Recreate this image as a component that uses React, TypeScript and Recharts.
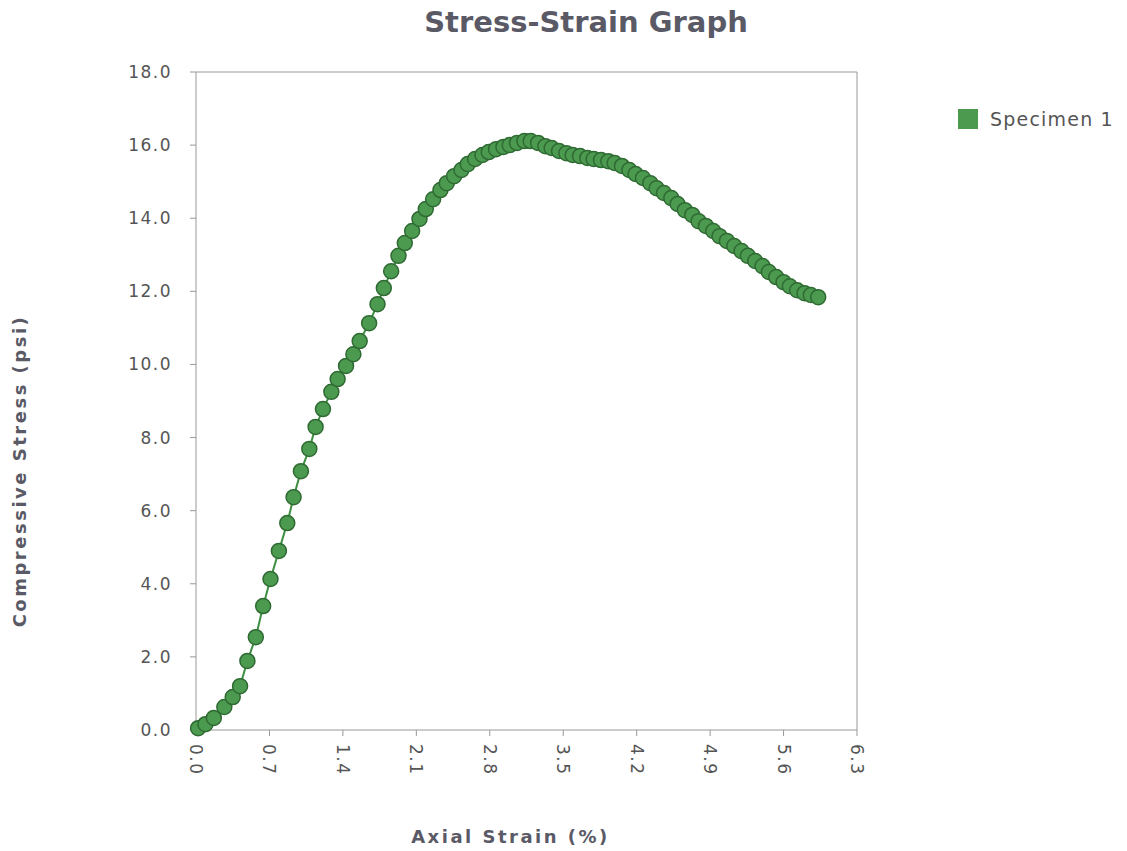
import { LineChart, Line, XAxis, YAxis, Legend, ReferenceLine } from 'recharts';

const strain = [
  0.02, 0.09, 0.17, 0.27, 0.35, 0.42, 0.49, 0.57, 0.64, 0.71, 0.79, 0.87, 0.93, 1.0, 1.08, 1.14,
  1.21, 1.29, 1.35, 1.43, 1.5, 1.56, 1.65, 1.73, 1.79, 1.86, 1.93, 1.99, 2.06, 2.13, 2.19, 2.26,
  2.33, 2.39, 2.46, 2.53, 2.59, 2.66, 2.73, 2.79, 2.86, 2.93, 2.99, 3.06, 3.13, 3.19, 3.26, 3.33,
  3.39, 3.46, 3.53, 3.59, 3.66, 3.73, 3.79, 3.86, 3.93, 3.99, 4.06, 4.13, 4.19, 4.26, 4.33, 4.39,
  4.46, 4.53, 4.59, 4.66, 4.73, 4.79, 4.86, 4.93, 4.99, 5.06, 5.13, 5.2, 5.26, 5.33, 5.4, 5.46,
  5.53, 5.6, 5.66, 5.73, 5.8, 5.86, 5.93,
];

const stress = [
  0.05, 0.16, 0.33, 0.63, 0.9, 1.2, 1.89, 2.54, 3.39, 4.13, 4.9, 5.66, 6.37, 7.08, 7.69, 8.29,
  8.78, 9.25, 9.6, 9.96, 10.28, 10.64, 11.13, 11.65, 12.09, 12.55, 12.97, 13.32, 13.65, 13.98,
  14.25, 14.52, 14.77, 14.96, 15.15, 15.32, 15.48, 15.62, 15.73, 15.81, 15.89, 15.95, 16.0,
  16.06, 16.11, 16.11, 16.06, 15.97, 15.92, 15.84, 15.78, 15.73, 15.7, 15.65, 15.62, 15.59,
  15.56, 15.51, 15.43, 15.32, 15.21, 15.1, 14.96, 14.82, 14.69, 14.55, 14.39, 14.22, 14.09,
  13.92, 13.79, 13.65, 13.51, 13.38, 13.24, 13.1, 12.97, 12.83, 12.69, 12.53, 12.39, 12.25,
  12.14, 12.03, 11.95, 11.9, 11.84,
];

const xTicks = [0, 0.7, 1.4, 2.1, 2.8, 3.5, 4.2, 4.9, 5.6, 6.3];
const yTicks = [0, 2, 4, 6, 8, 10, 12, 14, 16, 18];

const seriesName = 'Specimen 1';

const data = strain.map((s, i) => ({ strain: s, stress: stress[i] }));

const font = '"DejaVu Sans", Verdana, sans-serif';
const textGray = '#555';
const labelGray = '#5a5a66';

function XTick(props: any) {
  const { x, y, payload } = props;
  return (
    <text
      x={0}
      y={0}
      transform={`translate(${x - 6},${y + 6}) rotate(90)`}
      textAnchor="start"
      fill={textGray}
      fontSize={17}
      letterSpacing={1.5}
      fontFamily={font}
    >
      {payload.value.toFixed(1)}
    </text>
  );
}

function YTick(props: any) {
  const { x, y, payload } = props;
  return (
    <text
      x={x - 16}
      y={y}
      dy={6}
      textAnchor="end"
      fill={textGray}
      fontSize={17}
      letterSpacing={1.5}
      fontFamily={font}
    >
      {payload.value.toFixed(1)}
    </text>
  );
}

function LegendBox() {
  return (
    <div
      style={{
        display: 'flex',
        alignItems: 'center',
        fontFamily: font,
        fontSize: 19,
        letterSpacing: 1.2,
        color: textGray,
        whiteSpace: 'nowrap',
      }}
    >
      <span style={{ width: 20, height: 20, background: '#4c9a50', display: 'inline-block', marginRight: 12 }} />
      {seriesName}
    </div>
  );
}

export default function App() {
  return (
    <div style={{ position: 'absolute', left: 0, top: 0, width: 1127, height: 851, background: '#fff' }}>
      <div
        style={{
          position: 'absolute',
          left: 0,
          top: 5,
          width: 1172,
          textAlign: 'center',
          fontFamily: font,
          fontWeight: 'bold',
          fontSize: 29,
          color: labelGray,
        }}
      >
        Stress-Strain Graph
      </div>
      <LineChart
        width={1127}
        height={851}
        data={data}
        margin={{ top: 72, right: 270, bottom: 0, left: 0 }}
      >
        <XAxis
          type="number"
          dataKey="strain"
          domain={[0, 6.3]}
          ticks={xTicks}
          interval={0}
          height={121}
          stroke="#999"
          tickSize={6}
          tick={<XTick />}
          label={{
            value: 'Axial Strain (%)',
            position: 'insideBottom',
            offset: 8,
            dx: -16,
            fill: labelGray,
            fontSize: 18,
            fontWeight: 'bold',
            fontFamily: font,
            letterSpacing: 2.5,
          }}
        />
        <YAxis
          type="number"
          domain={[0, 18]}
          ticks={yTicks}
          interval={0}
          width={196}
          stroke="#999"
          tickSize={6}
          tick={<YTick />}
          label={{
            value: 'Compressive Stress (psi)',
            angle: -90,
            position: 'insideLeft',
            offset: 20,
            dy: 70,
            fill: labelGray,
            fontSize: 18,
            fontWeight: 'bold',
            fontFamily: font,
            letterSpacing: 2.5,
            style: { textAnchor: 'middle' },
          }}
        />
        <ReferenceLine y={18} stroke="#999" />
        <ReferenceLine x={6.3} stroke="#999" />
        <Legend
          layout="horizontal"
          verticalAlign="middle"
          align="center"
          wrapperStyle={{ position: 'absolute', left: 958, top: 108, width: 170 }}
          content={<LegendBox />}
        />
        <Line
          type="linear"
          dataKey="stress"
          name={seriesName}
          stroke="#3f8f42"
          strokeWidth={2}
          dot={{ r: 7.5, fill: '#4c9a50', stroke: '#2f6a33', strokeWidth: 1.5 }}
          activeDot={false}
          isAnimationActive={false}
        />
      </LineChart>
    </div>
  );
}
